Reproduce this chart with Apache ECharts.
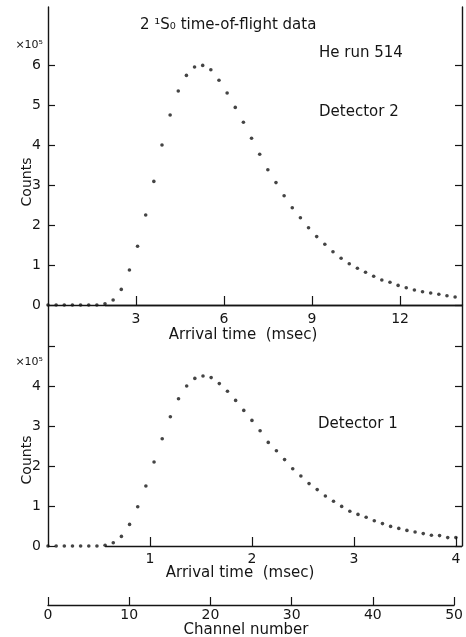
<!DOCTYPE html>
<html>
<head>
<meta charset="utf-8">
<script src="https://cdn.jsdelivr.net/npm/echarts@6/dist/echarts.min.js"></script>
<style>
    html, body { margin: 0; padding: 0; background: #fff; }
    #chart { width: 466px; height: 637px; }
</style>
</head>
<body>
<div id="chart"></div>
<script>
// counts in units of 1e5, one value per channel (0..50)
const detector2Counts = [0, 0, 0, 0, 0, 0, 0, 0.03, 0.125, 0.39, 0.875, 1.47, 2.25, 3.09, 4.0, 4.75, 5.35, 5.74, 5.95, 5.99,
    5.88, 5.62, 5.3, 4.94, 4.57, 4.17, 3.77, 3.38, 3.06, 2.73, 2.43, 2.18, 1.93, 1.71, 1.52, 1.33, 1.17, 1.03, 0.92, 0.82,
    0.72, 0.625, 0.57, 0.49, 0.43, 0.375, 0.33, 0.30, 0.27, 0.23, 0.20];
const detector1Counts = [0, 0, 0, 0, 0, 0, 0, 0.02, 0.08, 0.24, 0.54, 0.98, 1.5, 2.1, 2.68, 3.23, 3.68, 4.0, 4.19, 4.25,
    4.21, 4.06, 3.87, 3.64, 3.39, 3.14, 2.88, 2.59, 2.38, 2.16, 1.93, 1.75, 1.56, 1.41, 1.25, 1.12, 0.99, 0.87, 0.79, 0.72,
    0.63, 0.56, 0.49, 0.44, 0.39, 0.35, 0.31, 0.27, 0.26, 0.21, 0.21];
const channels = detector2Counts.map((v, i) => i);

// msec per channel for each detector
const det2ChannelWidth = 0.2775;
const det1ChannelWidth = 0.08;

const det2TimeTicks = [3, 6, 9, 12];
const det1TimeTicks = [1, 2, 3, 4];
const det2CountTicks = [0, 1, 2, 3, 4, 5, 6];
const det1CountTicks = [0, 1, 2, 3, 4, 5];
const det1CountLabels = [0, 1, 2, 3, 4];
const channelTicks = [0, 10, 20, 30, 40, 50];

const INK = '#151515';
const FONT = 'DejaVu Sans';
const det2Max = 14.11;
const det1Max = 4.06;
const firstCountChannel = 7; // the baseline is only drawn from here on

const toPoints = (counts, width) => counts.map((v, i) => [channels[i] * width, v]);

const baseline = (width, max) => ({
    symbol: 'none',
    silent: true,
    label: {show: false},
    lineStyle: {color: INK, width: 1.4, type: 'solid'},
    data: [[{coord: [channels[firstCountChannel] * width, 0]}, {coord: [max, 0]}]]
});

const timeAxis = (gridIndex, max, ticks, margin) => ({
    type: 'value', gridIndex, min: 0, max,
    axisLine: {show: false},
    axisTick: {show: true, inside: true, length: 9, customValues: ticks, lineStyle: {color: INK, width: 1.2}},
    axisLabel: {customValues: ticks, margin, color: INK, fontFamily: FONT, fontSize: 14},
    splitLine: {show: false}
});

const countAxis = (gridIndex, max, ticks, labels, position) => ({
    type: 'value', gridIndex, min: 0, max, position,
    axisLine: {show: true, onZero: false, lineStyle: {color: INK, width: 1.4}},
    axisTick: {show: true, inside: true, length: 7, customValues: ticks, lineStyle: {color: INK, width: 1.2}},
    axisLabel: position === 'left'
        ? {customValues: labels, margin: 7, color: INK, fontFamily: FONT, fontSize: 14}
        : {show: false},
    splitLine: {show: false}
});

const text = (x, y, str, extra) => ({
    type: 'text', x, y,
    style: Object.assign({text: str, fill: INK, font: `15px "${FONT}"`, verticalAlign: 'middle'}, extra)
});

const option = {
    animation: false,
    backgroundColor: '#fff',
    grid: [
        {left: 48, right: 4, top: 7, height: 298},
        {left: 48, right: 4, top: 305, height: 241},
        {left: 48, right: 11, top: 590, height: 15}
    ],
    xAxis: [
        timeAxis(0, det2Max, det2TimeTicks, 7),
        timeAxis(1, det1Max, det1TimeTicks, 6),
        {
            type: 'value', gridIndex: 2, min: 0, max: 50, interval: 10,
            axisLine: {show: true, lineStyle: {color: INK, width: 1.4}},
            axisTick: {show: true, inside: true, length: 8, customValues: channelTicks, lineStyle: {color: INK, width: 1.2}},
            axisLabel: {customValues: channelTicks, margin: 3, color: INK, fontFamily: FONT, fontSize: 14},
            splitLine: {show: false}
        },
        // top edge of the frame
        {
            type: 'value', gridIndex: 0, min: 0, max: det2Max, position: 'top',
            axisLine: {show: true, lineStyle: {color: INK, width: 1.4}},
            axisTick: {show: false}, axisLabel: {show: false}, splitLine: {show: false}
        }
    ],
    yAxis: [
        countAxis(0, 7.45, det2CountTicks, det2CountTicks, 'left'),
        countAxis(1, 6.025, det1CountTicks, det1CountLabels, 'left'),
        {type: 'value', gridIndex: 2, min: 0, max: 1, show: false},
        countAxis(0, 7.45, det2CountTicks, [], 'right'),
        countAxis(1, 6.025, det1CountTicks, [], 'right')
    ],
    series: [
        {
            name: 'Detector 2', type: 'scatter', xAxisIndex: 0, yAxisIndex: 0,
            symbolSize: 3.6, itemStyle: {color: INK},
            data: toPoints(detector2Counts, det2ChannelWidth),
            markLine: baseline(det2ChannelWidth, det2Max)
        },
        {
            name: 'Detector 1', type: 'scatter', xAxisIndex: 1, yAxisIndex: 1,
            symbolSize: 3.6, itemStyle: {color: INK},
            data: toPoints(detector1Counts, det1ChannelWidth),
            markLine: baseline(det1ChannelWidth, det1Max)
        }
    ],
    graphic: [
        text(140, 25, '2 \u00b9S\u2080 time-of-flight data'),
        text(319, 53, 'He run 514'),
        text(319, 112, 'Detector 2'),
        text(318, 424, 'Detector 1'),
        text(43, 45, '\u00d710\u2075', {align: 'right', font: `11px "${FONT}"`}),
        text(43, 362, '\u00d710\u2075', {align: 'right', font: `11px "${FONT}"`}),
        Object.assign(text(27, 182, 'Counts', {align: 'center', font: `14px "${FONT}"`}), {rotation: Math.PI / 2}),
        Object.assign(text(27, 460, 'Counts', {align: 'center', font: `14px "${FONT}"`}), {rotation: Math.PI / 2}),
        text(243, 335, 'Arrival time  (msec)', {align: 'center'}),
        text(240, 573, 'Arrival time  (msec)', {align: 'center'}),
        text(246, 630, 'Channel number', {align: 'center'})
    ]
};

const chart = echarts.init(document.getElementById('chart'));
chart.setOption(option);
</script>
</body>
</html>
